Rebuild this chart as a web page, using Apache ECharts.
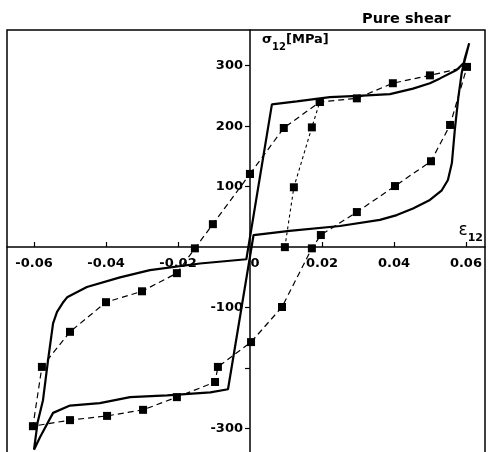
<!DOCTYPE html>
<html>
<head>
<meta charset="utf-8">
<script src="https://cdn.jsdelivr.net/npm/echarts@6/dist/echarts.min.js"></script>
<style>
  html, body { margin: 0; padding: 0; background: #fff; }
  #chart { width: 490px; height: 452px; }
</style>
</head>
<body>
<div id="chart"></div>
<script>
// model loop (solid)
const solidEps = [-0.0600, -0.0590, -0.0575, -0.0561, -0.0547, -0.0536, -0.0520, -0.0508, -0.0453, -0.0361, -0.0278, -0.0139, -0.0010,
  0.0061, 0.0130, 0.0222, 0.0300, 0.0389, 0.0453, 0.0500, 0.0528, 0.0574, 0.0595, 0.0609,
  0.0596, 0.0588, 0.0579, 0.0569, 0.0561, 0.0550, 0.0533, 0.0500, 0.0453, 0.0408, 0.0361, 0.0250, 0.0110, 0.0010,
  -0.0061, -0.0110, -0.0230, -0.0333, -0.0417, -0.0500, -0.0547, -0.0583, -0.0600];
const solidSig = [-335, -290, -253, -187, -126, -107, -92, -83, -66, -50, -38, -27, -20,
  236, 241, 248, 250, 253, 262, 271, 279, 293, 305, 337,
  310, 287, 248, 193, 139, 111, 94, 78, 64, 53, 45, 35, 27, 20,
  -235, -240, -245, -248, -258, -262, -274, -314, -335];

// measured loop (dashed, squares)
const dashEps = [0, 0.0094, 0.0194, 0.0297, 0.0397, 0.0500, 0.0603, 0.0556, 0.0503, 0.0403, 0.0297, 0.0197, 0.0172, 0.0089, 0.0003,
  -0.0089, -0.0097, -0.0203, -0.0297, -0.0397, -0.0500, -0.0603, -0.0578, -0.0500, -0.0400, -0.0300, -0.0203, -0.0153, -0.0103, 0];
const dashSig = [121, 197, 240, 246, 271, 284, 298, 202, 142, 101, 58, 20, -2, -99, -157,
  -198, -223, -248, -269, -279, -286, -296, -198, -140, -91, -73, -43, -2, 38, 121];

// initial loading (short dashes)
const initEps = [0.0097, 0.0122, 0.0172, 0.0194];
const initSig = [0, 99, 198, 240];

const xTicks = [-0.06, -0.04, -0.02, 0.02, 0.04, 0.06];
const xLabels = [-0.06, -0.04, -0.02, 0, 0.02, 0.04, 0.06];
const yTicks = [-300, -200, -100, 100, 200, 300];
const yLabels = [-300, -100, 100, 200, 300];

const pairs = (xs, ys) => xs.map((x, i) => [x, ys[i]]);
const font = 'DejaVu Sans';

const chart = echarts.init(document.getElementById('chart'));
chart.setOption({
  animation: false,
  title: {
    text: 'Pure shear',
    left: 357,
    top: 7,
    textStyle: { fontFamily: font, fontSize: 14.5, fontWeight: 'bold', color: '#000' }
  },
  grid: {
    left: 7, right: 5, top: 30, bottom: -2,
    outerBounds: { left: -200, right: -200, top: -200, bottom: -200 },
    show: true, borderColor: '#000', borderWidth: 1.5
  },
  xAxis: {
    type: 'value',
    min: -0.0675,
    max: 0.0653,
    position: 'bottom',
    offset: -207,   // puts the axis line on sigma = 0
    name: '{a|ε}{b|12}',
    nameLocation: 'end',
    nameGap: -2,
    nameTextStyle: {
      align: 'right', verticalAlign: 'bottom', padding: [0, 0, 3, 0],
      rich: {
        a: { fontFamily: font, fontSize: 17, color: '#000', lineHeight: 18, verticalAlign: 'top' },
        b: { fontFamily: font, fontSize: 11, fontWeight: 'bold', color: '#000', lineHeight: 22, verticalAlign: 'bottom' }
      }
    },
    axisLine: { onZero: false, lineStyle: { color: '#000', width: 1.5 } },
    axisTick: { customValues: xTicks, inside: true, length: 5, lineStyle: { color: '#000', width: 1.2 } },
    axisLabel: {
      customValues: xLabels,
      margin: 10,
      fontFamily: font, fontSize: 13, fontWeight: 'bold', color: '#000',
      formatter: v => (v === 0 ? '{z|0}' : v.toFixed(2)),
      rich: { z: { fontFamily: font, fontSize: 13, fontWeight: 'bold', color: '#000', padding: [0, 0, 0, 10] } }
    },
    splitLine: { show: false }
  },
  yAxis: {
    type: 'value',
    min: -342,
    max: 359,
    position: 'left',
    offset: -243,   // puts the axis line on eps = 0
    name: '{a|σ}{b|12}{a|[MPa]}',
    nameLocation: 'end',
    nameGap: -13,
    nameTextStyle: {
      align: 'left', verticalAlign: 'middle', padding: [0, 0, 0, 12],
      rich: {
        a: { fontFamily: font, fontSize: 13, fontWeight: 'bold', color: '#000', lineHeight: 15, verticalAlign: 'top' },
        b: { fontFamily: font, fontSize: 10, fontWeight: 'bold', color: '#000', lineHeight: 19, verticalAlign: 'bottom' }
      }
    },
    axisLine: { onZero: false, lineStyle: { color: '#000', width: 1.5 } },
    axisTick: { customValues: yTicks, length: 5, lineStyle: { color: '#000', width: 1.2 } },
    axisLabel: {
      customValues: yLabels,
      margin: 7,
      fontFamily: font, fontSize: 13, fontWeight: 'bold', color: '#000'
    },
    splitLine: { show: false }
  },
  series: [
    {
      type: 'line',
      data: pairs(solidEps, solidSig),
      showSymbol: false,
      lineStyle: { color: '#000', width: 2.2 },
      z: 2
    },
    {
      type: 'line',
      data: pairs(dashEps, dashSig),
      symbol: 'rect',
      symbolSize: 8,
      itemStyle: { color: '#000' },
      lineStyle: { color: '#000', width: 1.2, type: [6, 4] },
      z: 3
    },
    {
      type: 'line',
      data: pairs(initEps, initSig),
      symbol: 'rect',
      symbolSize: 8,
      itemStyle: { color: '#000' },
      lineStyle: { color: '#000', width: 1.1, type: [3, 3] },
      z: 3
    }
  ]
});
</script>
</body>
</html>
